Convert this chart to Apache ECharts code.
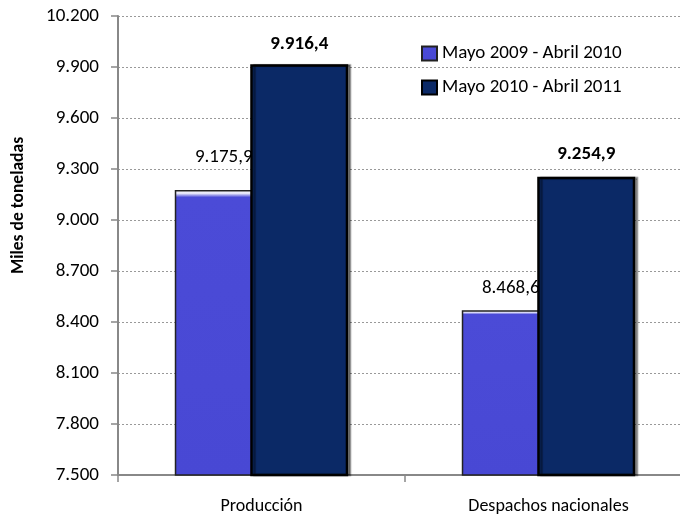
<!DOCTYPE html>
<html>
<head>
<meta charset="utf-8">
<script src="https://cdn.jsdelivr.net/npm/echarts@6/dist/echarts.min.js"></script>
<style>html,body{margin:0;padding:0;background:#fff;overflow:hidden;}#c{width:692px;height:515px;}</style>
</head>
<body>
<div id="c"></div>
<script>
var categories = ['Producción', 'Despachos nacionales'];
var seriesNames = ['Mayo 2009 - Abril 2010', 'Mayo 2010 - Abril 2011'];
var values2009 = [9175.9, 8468.6];
var values2010 = [9916.4, 9254.9];
var yMin = 7500, yMax = 10200, yStep = 300;

var FONT = "Carlito, 'Liberation Sans', sans-serif";
function fmt(v, dec) {
  var s = v.toFixed(dec);
  var parts = s.split('.');
  var ip = parts[0].replace(/\B(?=(\d{3})+(?!\d))/g, '.');
  return parts.length > 1 ? ip + ',' + parts[1] : ip;
}
var labelDist1 = [22, 12];
var labelDist2 = [10, 13];

var chart = echarts.init(document.getElementById('c'), null, {renderer: 'canvas'});
chart.setOption({
  animation: false,
  textStyle: {fontFamily: FONT},
  grid: {left: 118, top: 16, right: 0, height: 459},
  legend: {
    orient: 'vertical', left: 421, top: 43, padding: 0,
    itemWidth: 15, itemHeight: 14, itemGap: 13,
    icon: 'rect',
    textStyle: {fontSize: 19, color: '#000', lineHeight: 21, fontFamily: FONT},
    data: seriesNames
  },
  xAxis: {
    type: 'category', data: categories,
    axisLine: {lineStyle: {color: '#888', width: 2}},
    axisTick: {show: true, length: 7, lineStyle: {color: '#888', width: 1.5}},
    axisLabel: {fontSize: 18, color: '#000', margin: 22, fontFamily: FONT},
    splitLine: {show: false}
  },
  yAxis: {
    type: 'value', min: yMin, max: yMax, interval: yStep,
    name: 'Miles de toneladas', nameLocation: 'middle', nameRotate: 90, nameGap: 90,
    nameTextStyle: {fontSize: 17.5, fontWeight: 'bold', color: '#000', fontFamily: FONT, padding: [0, 0, 0, 80]},
    axisLine: {show: true, lineStyle: {color: '#888', width: 2}},
    axisTick: {show: true, length: 7, lineStyle: {color: '#888', width: 1.5}},
    axisLabel: {fontSize: 19, color: '#000', margin: 19, fontFamily: FONT,
      formatter: function (v) { return fmt(v, 0); }},
    splitLine: {show: true, lineStyle: {color: '#999', type: [2, 2], width: 1}}
  },
  series: [
    {
      name: seriesNames[0], type: 'bar', z: 2,
      barWidth: 98, barGap: '-23%',
      data: values2009.map(function (v, i) { return {value: v, label: {distance: labelDist1[i]}}; }),
      itemStyle: {
        color: {type: 'linear', x: 0, y: 0, x2: 0, y2: 1, colorStops: [
          {offset: 0, color: '#ffffff'}, {offset: 0.012, color: '#e4e4fa'},
          {offset: 0.025, color: '#4b4bd7'}, {offset: 1, color: '#4848d4'}]},
        borderColor: '#222', borderWidth: 1.5
      },
      label: {show: true, position: 'top', fontSize: 19, color: '#000', fontFamily: FONT,
        backgroundColor: '#fff', padding: [1, 2],
        formatter: function (p) { return fmt(p.value, 1); }}
    },
    {
      name: seriesNames[1], type: 'bar', z: 3,
      barWidth: 98,
      data: values2010.map(function (v, i) { return {value: v, label: {distance: labelDist2[i]}}; }),
      itemStyle: {
        color: '#0b2966', borderColor: '#000', borderWidth: 2.5,
        shadowColor: 'rgba(0,0,0,0.4)', shadowOffsetX: 3, shadowOffsetY: 0, shadowBlur: 1
      },
      label: {show: true, position: 'top', fontSize: 19, fontWeight: 'bold', color: '#000', fontFamily: FONT,
        formatter: function (p) { return fmt(p.value, 1); }}
    }
  ]
});
</script>
</body>
</html>
